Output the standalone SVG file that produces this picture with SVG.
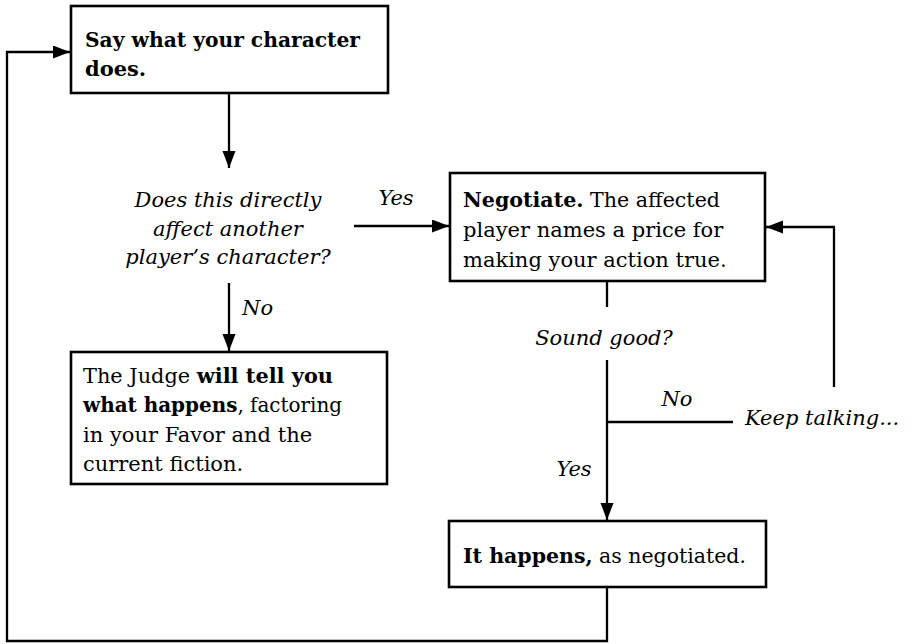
<svg xmlns="http://www.w3.org/2000/svg" width="912" height="644" viewBox="0 0 912 644">
<style>
.box{fill:#fff;stroke:#000;stroke-width:2.6}
.ln{fill:none;stroke:#000;stroke-width:2.3}
text{font-family:"DejaVu Serif","Liberation Serif",serif;font-size:21px;fill:#000}
.b{font-weight:bold}
.i{font-style:italic}
</style>
<defs>
<marker id="ah" markerUnits="userSpaceOnUse" markerWidth="18" markerHeight="14" refX="17" refY="6.5" orient="auto">
<path d="M0,0 L17,6.5 L0,13 z" fill="#000"/>
</marker>
</defs>
<rect width="912" height="644" fill="#fff"/>
<g id="connectors">
<path class="ln" d="M229,94 V168" marker-end="url(#ah)"/>
<path class="ln" d="M354,226 H449" marker-end="url(#ah)"/>
<path class="ln" d="M229,283 V351" marker-end="url(#ah)"/>
<path class="ln" d="M607,281 V307"/>
<path class="ln" d="M607,360 V520" marker-end="url(#ah)"/>
<path class="ln" d="M607,422 H733"/>
<path class="ln" d="M834,387 V227 H766" marker-end="url(#ah)"/>
<path class="ln" d="M607,587 V641 H7 V52 H70" marker-end="url(#ah)"/>
<text class="i" x="396" y="205" text-anchor="middle">Yes</text>
<text class="i" x="242" y="315">No</text>
<text class="i" x="677" y="406" text-anchor="middle">No</text>
<text class="i" x="574" y="476" text-anchor="middle">Yes</text>
</g>
<g id="n1">
<rect class="box" x="71" y="6" width="317" height="87"/>
<text class="b" x="85" y="47" textLength="275" lengthAdjust="spacingAndGlyphs">Say what your character</text>
<text class="b" x="85" y="76">does.</text>
</g>
<g id="q1">
<text class="i" x="228" y="207" text-anchor="middle">Does this directly</text>
<text class="i" x="228" y="236" text-anchor="middle">affect another</text>
<text class="i" x="228" y="264" text-anchor="middle">player’s character?</text>
</g>
<g id="n2">
<rect class="box" x="450" y="173" width="315" height="108"/>
<text x="463" y="207" textLength="257" lengthAdjust="spacingAndGlyphs"><tspan class="b">Negotiate.</tspan> The affected</text>
<text x="463" y="237">player names a price for</text>
<text x="463" y="267">making your action true.</text>
</g>
<g id="n3">
<rect class="box" x="71" y="352" width="316" height="132"/>
<text x="83" y="383" textLength="250" lengthAdjust="spacingAndGlyphs">The Judge <tspan class="b">will tell you</tspan></text>
<text x="83" y="412" textLength="259" lengthAdjust="spacingAndGlyphs"><tspan class="b">what happens</tspan>, factoring</text>
<text x="83" y="442">in your Favor and the</text>
<text x="83" y="471">current fiction.</text>
</g>
<g id="q2">
<text class="i" x="604" y="345" text-anchor="middle">Sound good?</text>
</g>
<g id="k">
<text class="i" x="745" y="425">Keep talking...</text>
</g>
<g id="n4">
<rect class="box" x="449" y="521" width="317" height="66"/>
<text x="463" y="563" textLength="283" lengthAdjust="spacingAndGlyphs"><tspan class="b">It happens,</tspan> as negotiated.</text>
</g>
</svg>
